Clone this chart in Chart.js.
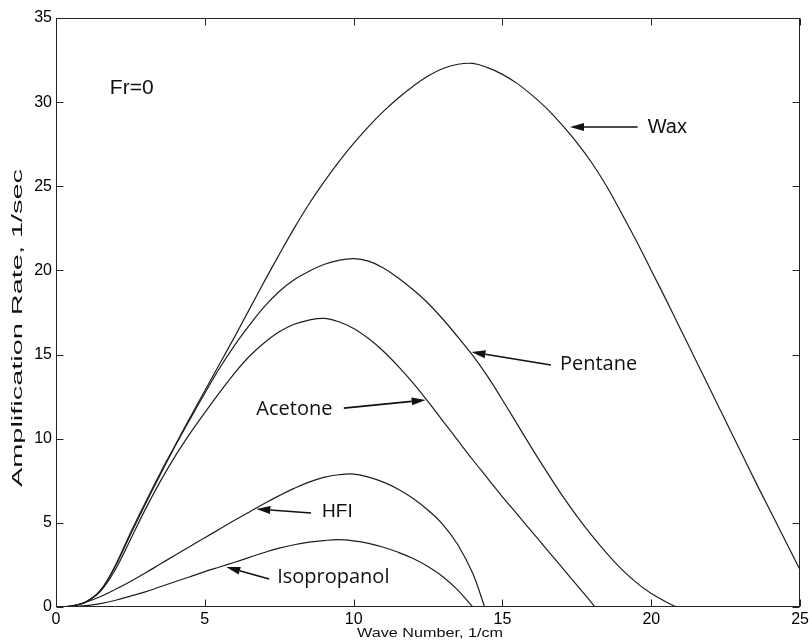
<!DOCTYPE html>
<html>
<head>
<meta charset="utf-8">
<script src="https://cdn.jsdelivr.net/npm/chart.js@4.4.1/dist/chart.umd.min.js"></script>
<style>
  html, body { margin: 0; padding: 0; background: #fff; }
  #wrap { width: 812px; height: 642px; position: relative; }
</style>
</head>
<body>
<div id="wrap"><canvas id="c" width="812" height="642"></canvas></div>
<script>
// ---------- data ----------
const xTickValues = [0, 5, 10, 15, 20, 25];
const yTickValues = [0, 5, 10, 15, 20, 25, 30, 35];

const waxX = [0,0.5,1,1.5,2,2.5,3,3.5,4,4.5,5,5.5,6,6.5,7,7.5,8,8.5,9,9.5,10,10.5,11,11.5,12,12.5,13,13.5,14,14.5,15,15.5,16,16.5,17,17.5,18,18.5,19,19.5,20,20.5,21,21.5,22,22.5,23,23.5,24,24.5,25];
const waxY = [0,0.05,0.3,1.0,2.5,4.4,6.2,7.95,9.6,11.25,12.85,14.45,16.05,17.7,19.35,20.95,22.5,23.95,25.25,26.45,27.55,28.55,29.45,30.25,30.95,31.55,32.0,32.25,32.3,32.05,31.65,31.1,30.4,29.6,28.65,27.6,26.4,25.0,23.4,21.75,20.0,18.25,16.45,14.65,12.85,11.05,9.25,7.45,5.7,3.95,2.2];

const pentaneX = [0,0.5,1,1.5,2,2.5,3,3.5,4,4.5,5,5.5,6,6.5,7,7.5,8,8.5,9,9.5,10,10.5,11,11.5,12,12.5,13,13.5,14,14.5,15,15.5,16,16.5,17,17.5,18,18.5,19,19.5,20,20.5,20.85];
const pentaneY = [0,0.05,0.3,1.0,2.45,4.3,6.1,7.85,9.55,11.15,12.7,14.2,15.55,16.75,17.85,18.75,19.45,19.95,20.35,20.6,20.7,20.55,20.15,19.55,18.85,18.05,17.1,16.05,14.95,13.7,12.3,10.85,9.4,8.0,6.65,5.4,4.25,3.2,2.25,1.45,0.8,0.3,0];

const acetoneX = [0,0.5,1,1.5,2,2.5,3,3.5,4,4.5,5,5.5,6,6.5,7,7.5,8,8.5,9,9.5,10,10.5,11,11.5,12,12.5,13,13.5,14,14.5,15,15.5,16,16.5,17,17.5,18,18.1];
const acetoneY = [0,0.05,0.3,0.95,2.25,4.0,5.8,7.45,8.95,10.3,11.55,12.75,13.9,14.9,15.7,16.35,16.8,17.05,17.15,16.95,16.55,15.95,15.2,14.3,13.3,12.2,11.05,9.9,8.75,7.65,6.55,5.5,4.45,3.4,2.35,1.3,0.25,0];

const hfiX = [0,0.5,1,1.5,2,2.5,3,3.5,4,4.5,5,5.5,6,6.5,7,7.5,8,8.5,9,9.5,10,10.5,11,11.5,12,12.5,13,13.5,14,14.4];
const hfiY = [0,0.05,0.28,0.62,1.05,1.52,2.02,2.55,3.08,3.6,4.12,4.63,5.15,5.65,6.15,6.62,7.05,7.42,7.7,7.86,7.9,7.72,7.42,7.0,6.45,5.75,4.9,3.7,2.0,0];

const isoX = [0,0.5,1,1.5,2,2.5,3,3.5,4,4.5,5,5.5,6,6.5,7,7.5,8,8.5,9,9.5,10,10.5,11,11.5,12,12.5,13,13.5,14];
const isoY = [0,0.01,0.08,0.2,0.4,0.65,0.9,1.2,1.5,1.8,2.1,2.38,2.66,2.95,3.24,3.5,3.7,3.85,3.95,4.0,3.93,3.78,3.55,3.25,2.88,2.4,1.8,1.0,0];

const seriesNames = ['Wax', 'Pentane', 'Acetone', 'HFI', 'Isopropanol'];
const xTitle = 'Wave Number, 1/cm';
const yTitle = 'Amplification Rate, 1/sec';
const condition = 'Fr=0';

// annotation anchors in data units (label start, arrow tail, arrow tip)
const labelFontHelv = '20px "Liberation Sans", Arial, Helvetica, sans-serif';
const labelFontHuman = '20px "Open Sans", "Noto Sans", sans-serif';
const notes = [
  { text: seriesNames[0], font: labelFontHelv,  at: [19.88, 28.52], tail: [19.54, 28.52], tip: [17.27, 28.52] },
  { text: seriesNames[1], font: labelFontHuman, at: [16.93, 14.44], tail: [16.63, 14.38], tip: [13.96, 15.15] },
  { text: seriesNames[2], font: labelFontHuman, at: [6.73, 11.76],  tail: [9.67, 11.82],  tip: [12.42, 12.30] },
  { text: seriesNames[3], font: '19px "Liberation Sans", Arial, Helvetica, sans-serif', at: [8.94, 5.64], tail: [8.57, 5.59], tip: [6.73, 5.82] },
  { text: seriesNames[4], font: labelFontHuman, at: [7.43, 1.78],   tail: [7.16, 1.66],   tip: [5.72, 2.38] },
  { text: condition,      font: '21px "Liberation Sans", Arial, Helvetica, sans-serif', at: [1.81, 30.84] }
];

function pts(xs, ys) { return xs.map((v, i) => ({ x: v, y: ys[i] })); }

const lineColor = '#1e1e1e';
const mk = (name, xs, ys) => ({
  label: name, data: pts(xs, ys), showLine: true, borderColor: lineColor,
  borderWidth: 1.2, pointRadius: 0, fill: false, tension: 0.4
});

const tickFont = { family: '"Liberation Sans", Arial, Helvetica, sans-serif', size: 16 };

const decor = {
  id: 'decor',
  afterDatasetsDraw(chart) {
    const { ctx, chartArea: a, scales: { x, y } } = chart;
    ctx.save();
    // frame
    ctx.strokeStyle = '#222';
    ctx.lineWidth = 1;
    const L = Math.round(a.left) + 0.5, R = Math.round(a.right) - 0.5;
    const T = Math.round(a.top) + 0.5, B = Math.round(a.bottom) - 0.5;
    ctx.strokeRect(L, T, R - L, B - T);
    // inward ticks
    ctx.beginPath();
    xTickValues.forEach(v => {
      const px = Math.round(x.getPixelForValue(v)) + 0.5;
      ctx.moveTo(px, B); ctx.lineTo(px, B - 7);
      ctx.moveTo(px, T); ctx.lineTo(px, T + 7);
    });
    yTickValues.forEach(v => {
      const py = Math.round(y.getPixelForValue(v)) + 0.5;
      ctx.moveTo(L, py); ctx.lineTo(L + 7, py);
      ctx.moveTo(R, py); ctx.lineTo(R - 7, py);
    });
    ctx.stroke();

    // annotations
    ctx.fillStyle = '#111';
    ctx.strokeStyle = '#111';
    notes.forEach(n => {
      ctx.font = n.font;
      ctx.textAlign = 'left';
      ctx.textBaseline = 'middle';
      ctx.fillText(n.text, x.getPixelForValue(n.at[0]), y.getPixelForValue(n.at[1]));
      if (n.tail) {
        const x0 = x.getPixelForValue(n.tail[0]), y0 = y.getPixelForValue(n.tail[1]);
        const x1 = x.getPixelForValue(n.tip[0]), y1 = y.getPixelForValue(n.tip[1]);
        const ang = Math.atan2(y1 - y0, x1 - x0);
        const hl = 14, hw = 4;
        const bx = x1 - hl * Math.cos(ang), by = y1 - hl * Math.sin(ang);
        ctx.lineWidth = 1.6;
        ctx.beginPath(); ctx.moveTo(x0, y0); ctx.lineTo(bx, by); ctx.stroke();
        ctx.beginPath();
        ctx.moveTo(x1, y1);
        ctx.lineTo(bx + hw * Math.sin(ang), by - hw * Math.cos(ang));
        ctx.lineTo(bx - hw * Math.sin(ang), by + hw * Math.cos(ang));
        ctx.closePath(); ctx.fill();
      }
    });

    // axis titles (the reference lettering is stretched along the text direction)
    ctx.fillStyle = '#111';
    ctx.textAlign = 'center';
    ctx.textBaseline = 'middle';
    ctx.font = '14px "Liberation Sans", Arial, Helvetica, sans-serif';
    let w = ctx.measureText(yTitle).width;
    ctx.save();
    ctx.translate(18, 328);
    ctx.rotate(-Math.PI / 2);
    ctx.scale(318 / w, 1);
    ctx.fillText(yTitle, 0, 0);
    ctx.restore();

    ctx.font = '13px "Liberation Sans", Arial, Helvetica, sans-serif';
    w = ctx.measureText(xTitle).width;
    ctx.save();
    ctx.translate(430, 633);
    ctx.scale(146 / w, 1);
    ctx.fillText(xTitle, 0, 0);
    ctx.restore();

    ctx.restore();
  }
};

new Chart(document.getElementById('c'), {
  type: 'scatter',
  data: {
    datasets: [
      mk(seriesNames[0], waxX, waxY),
      mk(seriesNames[1], pentaneX, pentaneY),
      mk(seriesNames[2], acetoneX, acetoneY),
      mk(seriesNames[3], hfiX, hfiY),
      mk(seriesNames[4], isoX, isoY)
    ]
  },
  options: {
    responsive: false,
    animation: false,
    layout: { padding: { top: 18, right: 9, left: 0, bottom: 0 } },
    plugins: { legend: { display: false }, tooltip: { enabled: false }, title: { display: false } },
    scales: {
      x: {
        type: 'linear', min: 0, max: 25,
        afterBuildTicks: s => { s.ticks = xTickValues.map(v => ({ value: v })); },
        afterFit: s => { s.height = 35; },
        grid: { display: false, drawTicks: false },
        border: { display: false },
        ticks: { color: '#000', font: tickFont, padding: 3, maxRotation: 0 }
      },
      y: {
        type: 'linear', min: 0, max: 35,
        afterBuildTicks: s => { s.ticks = yTickValues.map(v => ({ value: v })); },
        afterFit: s => { s.width = 56; },
        grid: { display: false, drawTicks: false },
        border: { display: false },
        ticks: { color: '#000', font: tickFont, padding: 4 }
      }
    }
  },
  plugins: [decor]
});
</script>
</body>
</html>
